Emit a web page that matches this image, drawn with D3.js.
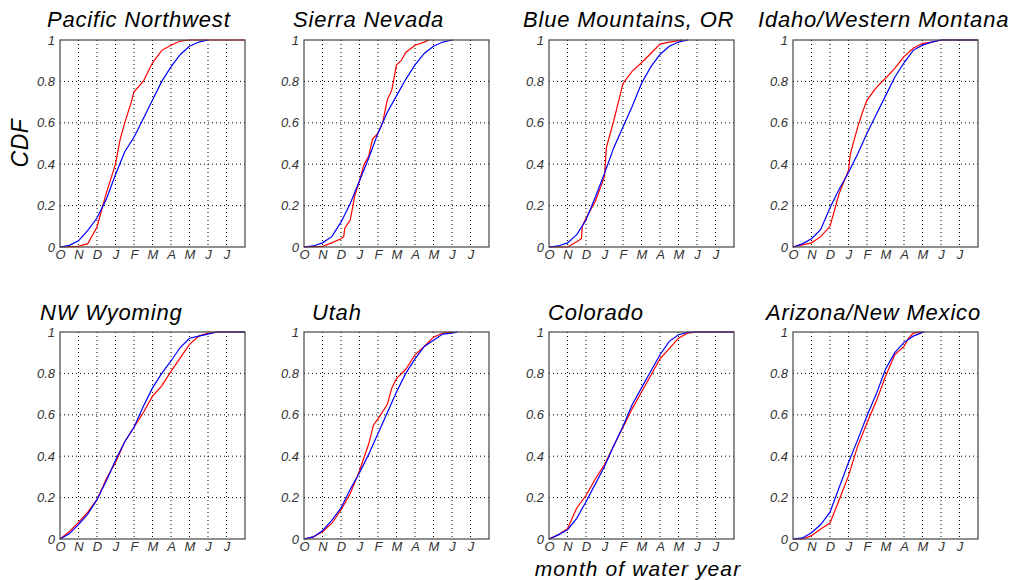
<!DOCTYPE html>
<html>
<head>
<meta charset="utf-8">
<script src="https://cdn.jsdelivr.net/npm/d3@7"></script>
<style>
  body { margin: 0; background: #fff; }
  svg { display: block; font-family: "Liberation Sans", Arial, sans-serif; }
</style>
</head>
<body>
<svg id="chart" width="1011" height="580"></svg>
<script>
// ---- data (month of water year: 0 = 1 Oct) ----
const monthLabels = ["O","N","D","J","F","M","A","M","J","J"];
const yTicks = [0, 0.2, 0.4, 0.6, 0.8, 1];
const regions = ["Pacific Northwest","Sierra Nevada","Blue Mountains, OR","Idaho/Western Montana",
                 "NW Wyoming","Utah","Colorado","Arizona/New Mexico"];

const pnwObs = [[0,0],[1,0.003],[1.5,0.016],[2,0.097],[2.5,0.26],[3,0.40],[3.25,0.52],[3.5,0.60],[3.85,0.70],[4,0.75],[4.5,0.80],[5,0.89],[5.5,0.95],[6,0.975],[6.5,0.995],[7,1],[10,1]];
const pnwFit = [[0,0],[0.5,0.008],[1,0.03],[1.5,0.08],[2,0.14],[2.5,0.23],[3,0.35],[3.5,0.46],[4,0.53],[4.5,0.62],[5,0.71],[5.5,0.80],[6,0.87],[6.5,0.93],[7,0.97],[7.5,0.99],[8,1]];

const sierraObs = [[0,0],[1,0.003],[1.5,0.02],[2,0.04],[2.15,0.05],[2.2,0.09],[2.5,0.13],[2.75,0.25],[3,0.32],[3.25,0.40],[3.5,0.44],[3.7,0.52],[4,0.55],[4.25,0.60],[4.5,0.71],[4.75,0.76],[5,0.88],[5.25,0.90],[5.5,0.94],[6,0.975],[6.5,0.99],[6.75,1]];
const sierraFit = [[0,0],[0.5,0.005],[1,0.02],[1.5,0.05],[2,0.12],[2.5,0.21],[3,0.32],[3.5,0.43],[4,0.55],[4.5,0.65],[5,0.73],[5.5,0.81],[6,0.88],[6.5,0.935],[7,0.97],[7.5,0.99],[8,1]];

const blueObs = [[0,0],[1,0],[1.5,0.025],[1.75,0.04],[1.8,0.10],[2,0.14],[2.5,0.22],[3,0.34],[3.1,0.48],[3.5,0.61],[4,0.79],[4.5,0.85],[5,0.89],[5.5,0.935],[6,0.98],[6.5,0.99],[7,0.997],[7.2,1]];
const blueFit = [[0,0],[0.5,0.005],[1,0.02],[1.5,0.06],[2,0.13],[2.5,0.24],[3,0.355],[3.5,0.48],[4,0.58],[4.5,0.68],[5,0.79],[5.5,0.87],[6,0.93],[6.5,0.97],[7,0.99],[7.5,1]];

const idahoObs = [[0,0],[1,0.02],[1.5,0.05],[2,0.10],[2.25,0.18],[2.5,0.26],[3,0.37],[3.1,0.45],[3.5,0.58],[3.75,0.65],[4,0.71],[4.5,0.77],[5,0.815],[5.5,0.863],[6,0.92],[6.5,0.96],[7,0.984],[7.5,0.99],[8,1],[10,1]];
const idahoFit = [[0,0],[0.5,0.015],[1,0.04],[1.5,0.085],[2,0.19],[2.5,0.28],[3,0.36],[3.5,0.45],[4,0.55],[4.5,0.64],[5,0.73],[5.5,0.82],[6,0.89],[6.5,0.95],[7,0.975],[7.5,0.99],[8,1],[10,1]];

const wyoObs = [[0,0],[0.5,0.035],[1,0.08],[1.5,0.13],[2,0.19],[2.5,0.29],[3,0.37],[3.5,0.47],[4,0.54],[4.5,0.61],[5,0.69],[5.5,0.74],[6,0.81],[6.5,0.875],[7,0.94],[7.5,0.98],[8,0.995],[8.5,1],[10,1]];
const wyoFit = [[0,0],[0.5,0.025],[1,0.07],[1.5,0.12],[2,0.19],[2.5,0.28],[3,0.38],[3.5,0.47],[4,0.54],[4.5,0.64],[5,0.73],[5.5,0.80],[6,0.86],[6.5,0.925],[7,0.97],[7.5,0.98],[8,0.99],[8.5,1],[10,1]];

const utahObs = [[0,0],[0.5,0.01],[1,0.035],[1.5,0.075],[2,0.14],[2.5,0.22],[3,0.33],[3.5,0.46],[3.75,0.55],[4,0.58],[4.5,0.65],[4.75,0.73],[5,0.775],[5.5,0.82],[6,0.89],[6.5,0.93],[7,0.975],[7.5,0.995],[8,1]];
const utahFit = [[0,0],[0.5,0.01],[1,0.04],[1.5,0.09],[2,0.15],[2.5,0.24],[3,0.32],[3.5,0.41],[4,0.51],[4.5,0.61],[5,0.71],[5.5,0.80],[6,0.87],[6.5,0.93],[7,0.96],[7.5,0.99],[8,0.995],[8.3,1]];

const coloObs = [[0,0],[0.5,0.02],[1,0.05],[1.5,0.15],[2,0.21],[2.5,0.29],[3,0.36],[3.5,0.45],[4,0.54],[4.5,0.63],[5,0.71],[5.5,0.79],[6,0.87],[6.5,0.92],[7,0.97],[7.5,0.995],[8,1],[10,1]];
const coloFit = [[0,0],[0.5,0.02],[1,0.045],[1.5,0.10],[2,0.18],[2.5,0.265],[3,0.35],[3.5,0.45],[4,0.545],[4.5,0.65],[5,0.73],[5.5,0.81],[6,0.89],[6.5,0.955],[7,0.987],[7.5,0.998],[8,1],[10,1]];

const azObs = [[0,0],[0.5,0],[1,0.016],[1.5,0.048],[2,0.077],[2.5,0.19],[3,0.305],[3.5,0.45],[4,0.56],[4.5,0.665],[5,0.785],[5.5,0.89],[6,0.93],[6.25,0.97],[6.5,0.995],[7,1]];
const azFit = [[0,0],[0.5,0.005],[1,0.03],[1.5,0.07],[2,0.13],[2.5,0.25],[3,0.37],[3.5,0.48],[4,0.595],[4.5,0.70],[5,0.82],[5.5,0.90],[6,0.95],[6.5,0.98],[7,0.998],[7.1,1]];

const observed = [pnwObs, sierraObs, blueObs, idahoObs, wyoObs, utahObs, coloObs, azObs];
const fitted   = [pnwFit, sierraFit, blueFit, idahoFit, wyoFit, utahFit, coloFit, azFit];

// ---- layout ----
const colLeft = [60, 304, 549, 793];
const rowTop = [40, 332];
const pw = 185, ph = 207;
const titleX = [47, 293, 523, 758, 40, 312, 548, 766];
const titleY = [27, 320];

const svg = d3.select("#chart");

regions.forEach((name, i) => {
  const col = i % 4, row = Math.floor(i / 4);
  const g = svg.append("g").attr("transform", `translate(${colLeft[col]},${rowTop[row]})`);
  const x = d3.scaleLinear().domain([0, 10]).range([0, pw]);
  const y = d3.scaleLinear().domain([0, 1]).range([ph, 0]);

  // grid
  g.append("g").selectAll("line").data(d3.range(1, 10)).join("line")
    .attr("x1", d => x(d)).attr("x2", d => x(d)).attr("y1", 0).attr("y2", ph)
    .attr("stroke", "#000").attr("stroke-width", 1).attr("stroke-dasharray", "1,3");
  g.append("g").selectAll("line").data(yTicks.slice(1, -1)).join("line")
    .attr("y1", d => y(d)).attr("y2", d => y(d)).attr("x1", 0).attr("x2", pw)
    .attr("stroke", "#000").attr("stroke-width", 1).attr("stroke-dasharray", "1,3");

  // axes
  const ya = g.append("g").call(d3.axisLeft(y).tickValues(yTicks).tickSize(0).tickPadding(5)
      .tickFormat(d => (d === 0 || d === 1) ? String(d) : d.toFixed(1)));
  const xa = g.append("g").attr("transform", `translate(0,${ph})`)
    .call(d3.axisBottom(x).tickValues(d3.range(0, 10)).tickSize(0).tickPadding(3)
      .tickFormat(d => monthLabels[d]));
  [ya, xa].forEach(a => {
    a.select(".domain").remove();
    a.selectAll("text").attr("font-size", 13).attr("font-style", "italic")
      .attr("fill", "#333").attr("font-family", "'Liberation Sans', Arial, sans-serif");
  });

  // curves
  const line = d3.line().x(d => x(d[0])).y(d => y(d[1]));
  g.append("path").datum(observed[i]).attr("d", line)
    .attr("fill", "none").attr("stroke", "#ff0000").attr("stroke-width", 1.2);
  g.append("path").datum(fitted[i]).attr("d", line)
    .attr("fill", "none").attr("stroke", "#0000ff").attr("stroke-width", 1.2);

  // frame
  g.append("rect").attr("x", 0).attr("y", 0).attr("width", pw).attr("height", ph)
    .attr("fill", "none").attr("stroke", "#444").attr("stroke-width", 1.2);

  // title
  svg.append("text").attr("x", titleX[i]).attr("y", titleY[row])
    .attr("font-size", 22).attr("letter-spacing", 0.8).attr("font-style", "italic").attr("fill", "#000")
    .text(name);
});

svg.append("text").attr("transform", "translate(28,143) rotate(-90)")
  .attr("text-anchor", "middle").attr("font-size", 23).attr("letter-spacing", 0.5).attr("font-style", "italic")
  .text("CDF");
svg.append("text").attr("x", 638).attr("y", 576)
  .attr("text-anchor", "middle").attr("font-size", 21).attr("letter-spacing", 1.1).attr("font-style", "italic")
  .text("month of water year");
</script>
</body>
</html>
